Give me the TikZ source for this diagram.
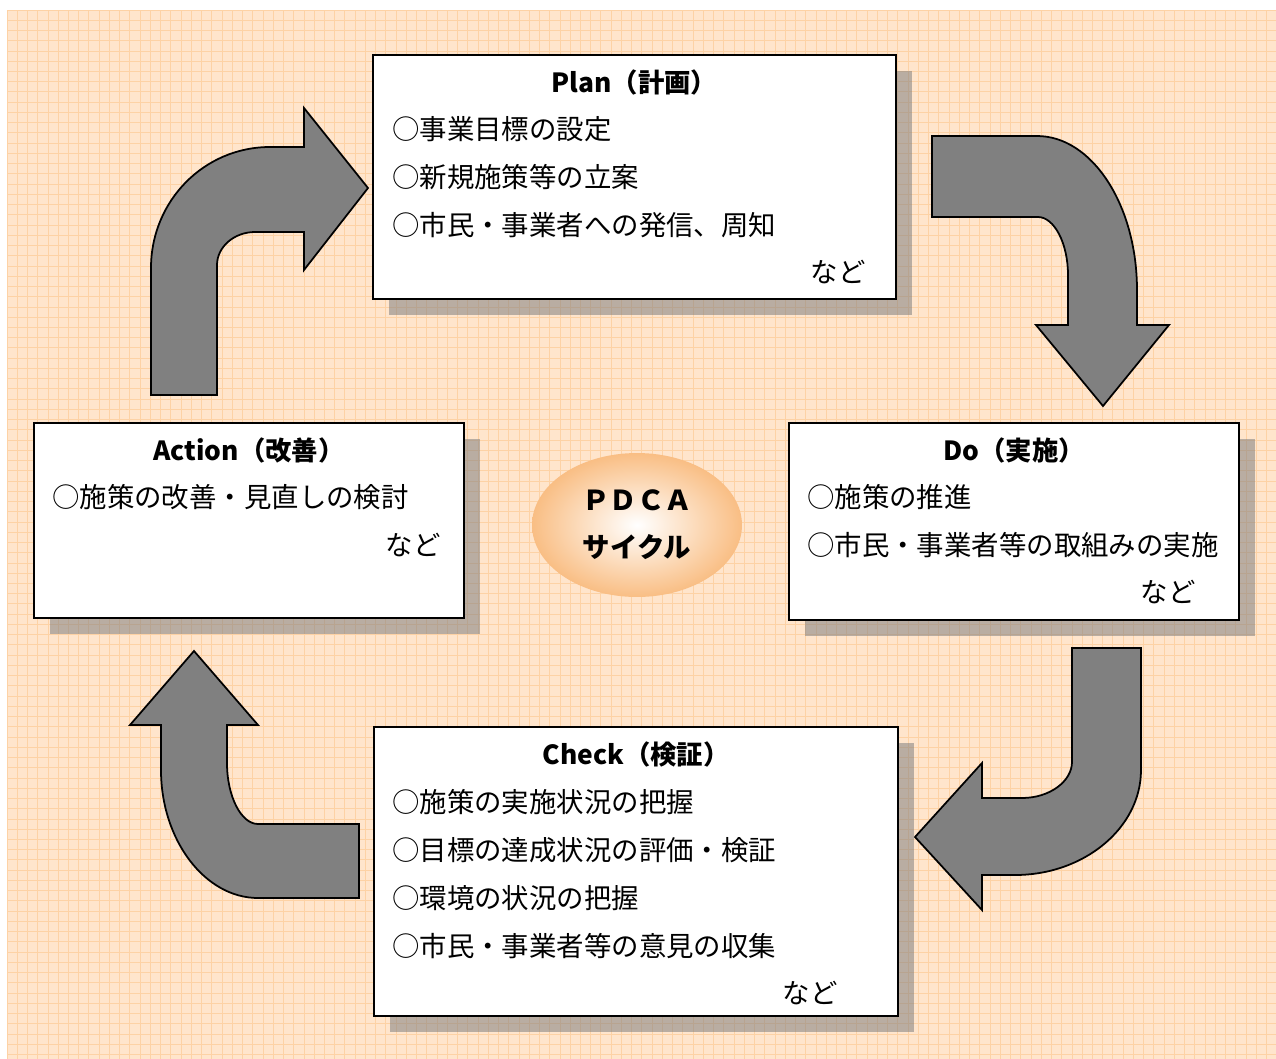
\documentclass[tikz,border=0pt]{standalone}
\usepackage{fontspec}
\setmainfont{Noto Sans CJK JP}
\usetikzlibrary{shapes.geometric,shadows}
\definecolor{bgpeach}{RGB}{255,229,204}
\definecolor{gridorange}{RGB}{253,210,165}
\definecolor{ringorange}{RGB}{249,190,132}
\definecolor{arrowgray}{RGB}{128,128,128}

\begin{document}
\begin{tikzpicture}[x=0.02cm, y=-0.02cm,
  gridline/.style={draw=gridorange, line width=0.5pt},
  panel/.style={draw, line width=1pt, fill=white, inner sep=0pt, outer sep=0pt,
    drop shadow={shadow xshift=0.32cm, shadow yshift=-0.32cm, fill=gray, opacity=0.55}},
  heading/.style={inner sep=0pt, font=\fontsize{15}{18}\selectfont\bfseries},
  itemtext/.style={anchor=west, inner sep=0pt, font=\fontsize{15.6}{18}\selectfont},
  nado/.style={anchor=east, inner sep=0pt, font=\fontsize{15.6}{18}\selectfont},
  bendarrow/.style={draw, line width=1pt, fill=arrowgray, line join=miter},
]
% page and squared paper
\useasboundingbox (0,0) rectangle (1276,1059);
\fill[white] (0,0) rectangle (1276,1059);
\fill[bgpeach] (7,10) rectangle (1276,1059);
\foreach \gx in {7,17.24,...,1276}
  \draw[gridline] (\gx,10) -- (\gx,1059);
\foreach \gy in {10,20.24,...,1059}
  \draw[gridline] (7,\gy) -- (1276,\gy);

% Plan
\node[panel, minimum width=10.46cm, minimum height=4.88cm] (plan) at (634.5,177) {};
\node[heading] (plan-t) at (634.5,82) {Plan（計画）};
\node[itemtext] (plan-1) at (392,129) {○事業目標の設定};
\node[itemtext] (plan-2) at (392,177) {○新規施策等の立案};
\node[itemtext] (plan-3) at (392,225) {○市民・事業者への発信、周知};
\node[nado] (plan-n) at (866,272) {など};

% Do
\node[panel, minimum width=9cm, minimum height=3.94cm] (do) at (1014,521.5) {};
\node[heading] (do-t) at (1014,450) {Do（実施）};
\node[itemtext] (do-1) at (807,497) {○施策の推進};
\node[itemtext] (do-2) at (807,545) {○市民・事業者等の取組みの実施};
\node[nado] (do-n) at (1196,592) {など};

% Check
\node[panel, minimum width=10.48cm, minimum height=5.78cm] (check) at (636,871.5) {};
\node[heading] (check-t) at (636,754) {Check（検証）};
\node[itemtext] (check-1) at (392,802) {○施策の実施状況の把握};
\node[itemtext] (check-2) at (392,850) {○目標の達成状況の評価・検証};
\node[itemtext] (check-3) at (392,898) {○環境の状況の把握};
\node[itemtext] (check-4) at (392,946) {○市民・事業者等の意見の収集};
\node[nado] (check-n) at (838,993) {など};

% Action
\node[panel, minimum width=8.6cm, minimum height=3.9cm] (action) at (249,520.5) {};
\node[heading] (action-t) at (249,450) {Action（改善）};
\node[itemtext] (action-1) at (52,497) {○施策の改善・見直しの検討};
\node[nado] (action-n) at (441,545) {など};

% bent arrows
\draw[bendarrow] (151,395) -- (151,268) .. controls (151,201) and (204,147) .. (270,147)
  -- (304,147) -- (304,108) -- (368,188) -- (304,270) -- (304,232) -- (255,232)
  .. controls (234,232) and (217,247) .. (217,265) -- (217,395) -- cycle;
\draw[bendarrow] (932,136) -- (1037,136) .. controls (1092,136) and (1137,205) .. (1137,290)
  -- (1137,325) -- (1169,325) -- (1103,406) -- (1036,325) -- (1068,325) -- (1068,275)
  .. controls (1068,243) and (1054,217) .. (1038,217) -- (932,217) -- cycle;
\draw[bendarrow] (1072,648) -- (1141,648) -- (1141,770) .. controls (1141,828) and (1084,875) .. (1015,875)
  -- (982,875) -- (982,910) -- (915,837) -- (982,763) -- (982,798) -- (1022,798)
  .. controls (1050,798) and (1072,781) .. (1072,762) -- cycle;
\draw[bendarrow] (359,824) -- (359,898) -- (258,898) .. controls (205,898) and (161,840) .. (161,770)
  -- (161,725) -- (130,725) -- (194,651) -- (258,725) -- (227,725) -- (227,763)
  .. controls (227,796) and (241,824) .. (258,824) -- cycle;

% centre
\node[ellipse, minimum width=4.2cm, minimum height=2.88cm, inner color=white, outer color=ringorange,
  align=center, font=\fontsize{15.6}{26.6}\selectfont\bfseries] (pdca) at (637,525) {ＰＤＣＡ\\サイクル};
\end{tikzpicture}
\end{document}
